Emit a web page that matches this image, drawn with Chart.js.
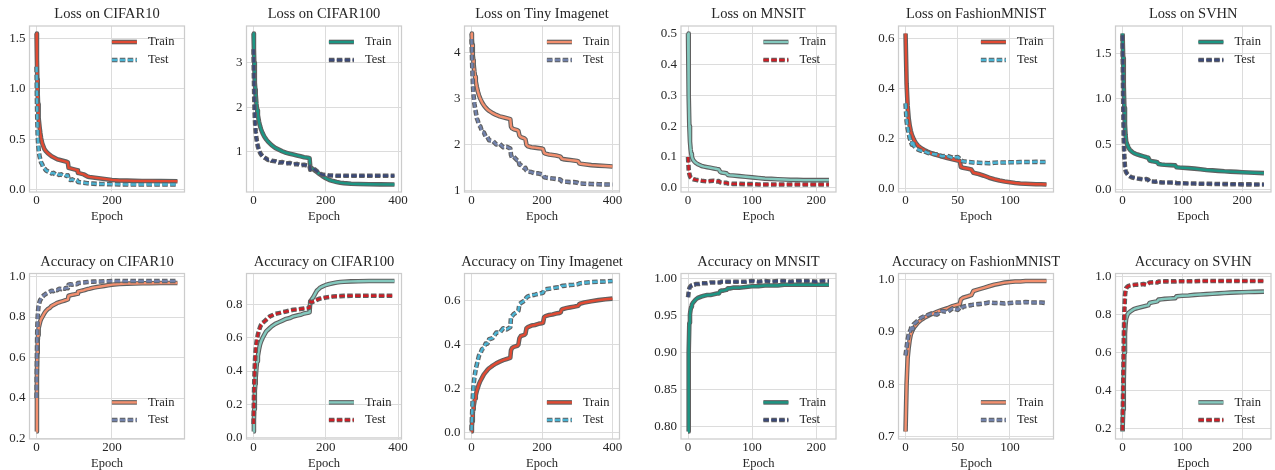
<!DOCTYPE html>
<html>
<head>
<meta charset="utf-8">
<script src="https://cdn.jsdelivr.net/npm/chart.js@4.4.1/dist/chart.umd.min.js"></script>
<style>
html, body { margin: 0; padding: 0; background: #fff; width: 1275px; height: 470px; overflow: hidden; }
canvas { position: absolute; }
</style>
</head>
<body>
<script>
// ---- data ----
const c10Epochs = [0,1,2,3,4,5,6, 8,10,12,15,18,21,25, 30,35,40,45,50,55,60, 65,70,75,80,83,85, 90,95,100,105,108,110, 115,120,125,130,135,140, 150,160,170,180,190,200, 220,240,260,280,300,330,374];
const c10LossTrain = [1.55,1.30,1.10,0.95,0.85,0.77,0.71, 0.62,0.56,0.51,0.46,0.43,0.40,0.38, 0.36,0.345,0.33,0.32,0.31,0.30,0.295, 0.29,0.285,0.28,0.275,0.27,0.215, 0.21,0.205,0.20,0.195,0.19,0.165, 0.16,0.155,0.15,0.14,0.13,0.125, 0.12,0.115,0.11,0.105,0.10,0.095, 0.09,0.088,0.086,0.085,0.084,0.083,0.082];
const c10LossTest = [1.22,0.90,0.70,0.55,0.47,0.42,0.38, 0.33,0.30,0.27,0.25,0.22,0.21,0.19, 0.18,0.17,0.16,0.165,0.15,0.155,0.145, 0.15,0.14,0.145,0.135,0.14,0.10, 0.095,0.10,0.09,0.095,0.09,0.075, 0.072,0.07,0.068,0.065,0.062,0.06, 0.058,0.056,0.055,0.054,0.053,0.052, 0.051,0.05,0.05,0.05,0.05,0.05,0.05];
const c10AccTrain = [0.235,0.50,0.62,0.68,0.71,0.73,0.745, 0.765,0.78,0.79,0.80,0.81,0.82,0.83, 0.84,0.845,0.855,0.86,0.865,0.87,0.873, 0.876,0.879,0.882,0.885,0.887,0.905, 0.908,0.91,0.912,0.914,0.915,0.925, 0.928,0.93,0.932,0.935,0.938,0.94, 0.945,0.948,0.951,0.954,0.957,0.96, 0.963,0.965,0.966,0.967,0.967,0.968,0.968];
const c10AccTest = [0.40,0.62,0.74,0.80,0.83,0.85,0.86, 0.875,0.885,0.89,0.90,0.905,0.91,0.915, 0.92,0.925,0.93,0.928,0.935,0.933,0.94, 0.938,0.943,0.94,0.945,0.943,0.96, 0.962,0.96,0.963,0.962,0.963,0.968, 0.969,0.97,0.971,0.972,0.973,0.974, 0.975,0.976,0.976,0.977,0.977,0.978, 0.978,0.978,0.978,0.978,0.978,0.978,0.978];

const c100Epochs = [0,1,2,3,4,5,6, 8,10,12,15,18,21,25, 30,35,40,45,50,60,70, 80,90,100,110,120,130,140, 150,155,157,160,165,170,175, 180,185,190,200,210,220,230, 240,250,270,290,320,350,390];
const c100LossTrain = [3.65,3.30,3.00,2.75,2.55,2.40,2.28, 2.08,1.93,1.82,1.68,1.58,1.50,1.42, 1.34,1.28,1.23,1.19,1.15,1.09,1.05, 1.01,0.98,0.96,0.94,0.92,0.90,0.88, 0.87,0.86,0.66,0.64,0.61,0.58,0.55, 0.52,0.49,0.46,0.41,0.37,0.345,0.325, 0.31,0.30,0.285,0.28,0.275,0.272,0.27];
const c100LossTest = [3.30,2.70,2.20,1.90,1.70,1.55,1.45, 1.30,1.20,1.12,1.04,0.98,0.94,0.90, 0.87,0.85,0.82,0.83,0.80,0.79,0.76, 0.77,0.74,0.75,0.72,0.73,0.70,0.71, 0.69,0.68,0.60,0.62,0.63,0.60,0.57, 0.54,0.51,0.49,0.48,0.47,0.47,0.465, 0.465,0.465,0.465,0.465,0.465,0.465,0.465];
const c100AccTrain = [0.035,0.10,0.17,0.23,0.28,0.32,0.36, 0.42,0.46,0.49,0.53,0.56,0.58,0.60, 0.62,0.64,0.65,0.66,0.67,0.685,0.695, 0.705,0.715,0.72,0.73,0.735,0.74,0.748, 0.752,0.755,0.82,0.83,0.845,0.865,0.885, 0.895,0.905,0.91,0.92,0.926,0.931,0.935, 0.938,0.94,0.942,0.943,0.944,0.944,0.944];
const c100AccTest = [0.08,0.22,0.33,0.40,0.46,0.50,0.53, 0.57,0.60,0.62,0.645,0.665,0.68,0.69, 0.70,0.71,0.72,0.73,0.735,0.745,0.75, 0.755,0.76,0.765,0.77,0.772,0.775,0.778, 0.78,0.782,0.82,0.815,0.82,0.825,0.83, 0.835,0.838,0.84,0.845,0.848,0.85,0.852, 0.853,0.854,0.855,0.855,0.855,0.855,0.855];

const tinEpochs = [0,1,2,3,4,5,6,8,10,12, 15,18,21,25,30,35,40,45,50,60, 70,80,90,100,110,112,115,120,130,133, 136,140,150,153,156,160,170,180,190,200, 203,206,210,220,230,240,250,253,256,260, 270,280,290,300,303,306,310,320,340,360, 380,400];
const tinLossTrain = [4.42,4.30,4.18,4.05,3.95,3.85,3.75,3.60,3.48,3.38, 3.26,3.16,3.08,3.00,2.92,2.86,2.81,2.77,2.74,2.69, 2.65,2.62,2.60,2.58,2.56,2.40,2.36,2.34,2.32,2.30, 2.20,2.17,2.14,2.12,2.00,1.97,1.95,1.94,1.93,1.92, 1.91,1.83,1.81,1.79,1.78,1.77,1.75,1.74,1.70,1.69, 1.68,1.67,1.66,1.65,1.64,1.60,1.59,1.58,1.56,1.55, 1.54,1.53];
const tinLossTest = [4.30,4.00,3.70,3.50,3.30,3.15,3.05,2.90,2.80,2.72, 2.58,2.52,2.43,2.40,2.28,2.27,2.18,2.17,2.10,2.09, 2.01,2.02,1.95,1.96,1.92,1.78,1.72,1.74,1.66,1.67, 1.57,1.56,1.49,1.50,1.44,1.42,1.41,1.38,1.38,1.36, 1.35,1.30,1.29,1.28,1.27,1.26,1.25,1.24,1.21,1.20, 1.20,1.19,1.19,1.18,1.17,1.16,1.16,1.155,1.15,1.145, 1.14,1.14];
const tinAccTrain = [0.005,0.03,0.05,0.07,0.09,0.105,0.12,0.14,0.155,0.17, 0.19,0.205,0.22,0.235,0.25,0.265,0.275,0.285,0.293,0.305, 0.315,0.323,0.33,0.335,0.34,0.375,0.385,0.39,0.395,0.40, 0.43,0.44,0.445,0.45,0.475,0.48,0.487,0.49,0.495,0.498, 0.50,0.525,0.53,0.535,0.538,0.542,0.545,0.547,0.56,0.563, 0.567,0.57,0.573,0.576,0.578,0.585,0.588,0.592,0.598,0.603, 0.607,0.61];
const tinAccTest = [0.01,0.06,0.10,0.14,0.17,0.20,0.22,0.25,0.27,0.29, 0.31,0.33,0.35,0.36,0.38,0.385,0.405,0.405,0.425,0.43, 0.455,0.455,0.475,0.47,0.48,0.525,0.53,0.54,0.55,0.555, 0.585,0.59,0.60,0.605,0.615,0.62,0.625,0.628,0.632,0.635, 0.637,0.65,0.652,0.655,0.657,0.66,0.662,0.663,0.667,0.668, 0.67,0.672,0.673,0.675,0.676,0.679,0.68,0.682,0.685,0.687, 0.688,0.69];

const mnEpochs = [0,1,2,3,4,5,6,8,10,12, 15,18,21,25,30,35,40,45,48,50, 52,55,60,62,65,70,80,90,100,110, 120,130,140,150,160,170,180,190,200,210, 220];
const mnLossTrain = [0.50,0.30,0.20,0.15,0.125,0.11,0.10,0.09,0.085,0.081, 0.077,0.074,0.071,0.069,0.067,0.065,0.063,0.061,0.060,0.052, 0.050,0.049,0.047,0.042,0.041,0.040,0.038,0.036,0.034,0.032, 0.030,0.029,0.028,0.027,0.026,0.026,0.025,0.025,0.025,0.025, 0.025];
const mnLossTest = [0.10,0.06,0.045,0.038,0.034,0.032,0.030,0.028,0.027,0.026, 0.025,0.024,0.023,0.022,0.021,0.022,0.023,0.021,0.022,0.018, 0.017,0.016,0.016,0.014,0.014,0.013,0.013,0.012,0.012,0.011, 0.011,0.011,0.011,0.011,0.011,0.011,0.011,0.011,0.011,0.011, 0.011];
const mnAccTrain = [0.793,0.90,0.94,0.952,0.958,0.962,0.965,0.968,0.970,0.972, 0.974,0.975,0.976,0.977,0.978,0.978,0.979,0.980,0.980,0.983, 0.984,0.984,0.985,0.987,0.987,0.988,0.988,0.989,0.990,0.990, 0.991,0.991,0.991,0.992,0.992,0.992,0.992,0.992,0.992,0.992, 0.992];
const mnAccTest = [0.975,0.982,0.987,0.989,0.990,0.991,0.991,0.992,0.992,0.993, 0.993,0.993,0.994,0.994,0.994,0.995,0.995,0.995,0.995,0.995, 0.996,0.996,0.996,0.996,0.996,0.996,0.996,0.996,0.997,0.996, 0.997,0.996,0.997,0.997,0.996,0.997,0.997,0.997,0.996,0.997, 0.997];

const fmEpochs = [0,1,2,3,4,5,6,7,8,10, 12,15,18,21,25,30,35,40,45,50, 52,53,55,60,63,65,70,75,80,85, 90,95,100,105,110,115,120,125,130,135];
const fmLossTrain = [0.62,0.42,0.33,0.28,0.25,0.23,0.215,0.205,0.195,0.18, 0.17,0.16,0.153,0.147,0.14,0.133,0.127,0.121,0.116,0.111, 0.109,0.085,0.082,0.078,0.075,0.062,0.057,0.050,0.042,0.036, 0.031,0.027,0.024,0.021,0.019,0.018,0.017,0.016,0.016,0.015];
const fmLossTest = [0.34,0.27,0.24,0.22,0.20,0.19,0.175,0.19,0.17,0.16, 0.155,0.15,0.148,0.142,0.138,0.135,0.128,0.13,0.122,0.125, 0.118,0.112,0.108,0.105,0.104,0.103,0.102,0.101,0.100,0.102, 0.103,0.103,0.104,0.104,0.105,0.105,0.105,0.106,0.105,0.105];
const fmAccTrain = [0.71,0.80,0.85,0.87,0.885,0.895,0.90,0.905,0.908,0.913, 0.918,0.923,0.927,0.93,0.934,0.938,0.942,0.945,0.949,0.952, 0.953,0.962,0.965,0.968,0.97,0.978,0.981,0.984,0.987,0.99, 0.992,0.994,0.995,0.996,0.996,0.997,0.997,0.997,0.997,0.997];
const fmAccTest = [0.855,0.87,0.885,0.895,0.90,0.905,0.912,0.905,0.915,0.918, 0.922,0.927,0.93,0.932,0.935,0.933,0.94,0.938,0.945,0.942, 0.946,0.944,0.948,0.95,0.951,0.952,0.953,0.954,0.956,0.955, 0.955,0.954,0.955,0.956,0.956,0.957,0.956,0.956,0.956,0.955];

const svEpochs = [0,1,2,3,4,5,6,8,10,12, 15,18,21,25,30,35,40,43,45,50, 55,58,60,65,70,80,88,90,95,100, 110,120,130,140,150,160,170,180,190,200, 210,220,236];
const svLossTrain = [1.72,1.45,1.15,0.90,0.72,0.60,0.53,0.49,0.46,0.44, 0.42,0.405,0.395,0.385,0.375,0.365,0.355,0.35,0.32,0.31, 0.305,0.30,0.28,0.275,0.272,0.268,0.265,0.245,0.242,0.24, 0.235,0.23,0.222,0.215,0.21,0.205,0.20,0.197,0.194,0.19, 0.187,0.184,0.18];
const svLossTest = [1.70,1.00,0.55,0.35,0.25,0.21,0.19,0.17,0.155,0.145, 0.135,0.13,0.125,0.12,0.115,0.11,0.115,0.105,0.09,0.088, 0.085,0.09,0.08,0.078,0.077,0.076,0.075,0.07,0.069,0.068, 0.066,0.065,0.063,0.062,0.061,0.06,0.059,0.058,0.057,0.056, 0.056,0.055,0.055];
const svAccTrain = [0.185,0.30,0.45,0.60,0.70,0.75,0.78,0.80,0.81,0.815, 0.822,0.828,0.832,0.836,0.84,0.844,0.848,0.85,0.862,0.866, 0.869,0.871,0.88,0.882,0.884,0.886,0.888,0.897,0.899,0.90, 0.902,0.905,0.907,0.909,0.911,0.913,0.915,0.917,0.918,0.919, 0.92,0.921,0.922];
const svAccTest = [0.19,0.40,0.65,0.82,0.90,0.93,0.94,0.948,0.952,0.954, 0.956,0.957,0.958,0.959,0.96,0.962,0.958,0.965,0.97,0.971, 0.972,0.97,0.975,0.975,0.976,0.976,0.976,0.977,0.977,0.977, 0.977,0.977,0.978,0.978,0.978,0.978,0.978,0.978,0.978,0.978, 0.978,0.978,0.978];

// tick labels
const c10XTicks = [0, 200];
const c100XTicks = [0, 200, 400];
const tinXTicks = [0, 200, 400];
const mnXTicks = [0, 100, 200];
const fmXTicks = [0, 50, 100];
const svXTicks = [0, 100, 200];
const lossC10YTicks = ['0.0', '0.5', '1.0', '1.5'];
const lossC100YTicks = ['1', '2', '3'];
const lossTinYTicks = ['1', '2', '3', '4'];
const lossMnYTicks = ['0.0', '0.1', '0.2', '0.3', '0.4', '0.5'];
const lossFmYTicks = ['0.0', '0.2', '0.4', '0.6'];
const lossSvYTicks = ['0.0', '0.5', '1.0', '1.5'];
const accC10YTicks = ['0.2', '0.4', '0.6', '0.8', '1.0'];
const accC100YTicks = ['0.0', '0.2', '0.4', '0.6', '0.8'];
const accTinYTicks = ['0.0', '0.2', '0.4', '0.6'];
const accMnYTicks = ['0.80', '0.85', '0.90', '0.95', '1.00'];
const accFmYTicks = ['0.7', '0.8', '0.9', '1.0'];
const accSvYTicks = ['0.2', '0.4', '0.6', '0.8', '1.0'];

// ---- style ----
const FONT = "'Liberation Serif', 'Times New Roman', serif";
const INK = '#262626';
const GRID = '#dcdcdc';
const FRAME = '#cccccc';
const OUTLINE = '#606060';
const DASH = [5.5, 2.4];
const palettes = {
    A: ['#e24a33', '#4bb3d3'],
    B: ['#1c9684', '#3c4a78'],
    C: ['#f3906f', '#7282ab'],
    D: ['#84c9be', '#cc1f27']
};

// plot-area geometry, page pixels
const colLeft = [29.5, 246.5, 464.5, 681, 898.5, 1115.5];
const colWidth = [155, 155, 155, 155, 155, 155.5];
const rowTop = [26, 273.5];
const rowHeight = [166, 165];
const rowOrigin = [0, 235];

const panels = [
    {title: 'Loss on CIFAR10', epochs: c10Epochs, train: c10LossTrain, test: c10LossTest, xTicks: c10XTicks, yTicks: lossC10YTicks, pal: 'A', row: 0, col: 0},
    {title: 'Loss on CIFAR100', epochs: c100Epochs, train: c100LossTrain, test: c100LossTest, xTicks: c100XTicks, yTicks: lossC100YTicks, pal: 'B', row: 0, col: 1},
    {title: 'Loss on Tiny Imagenet', epochs: tinEpochs, train: tinLossTrain, test: tinLossTest, xTicks: tinXTicks, yTicks: lossTinYTicks, pal: 'C', row: 0, col: 2},
    {title: 'Loss on MNSIT', epochs: mnEpochs, train: mnLossTrain, test: mnLossTest, xTicks: mnXTicks, yTicks: lossMnYTicks, pal: 'D', row: 0, col: 3},
    {title: 'Loss on FashionMNIST', epochs: fmEpochs, train: fmLossTrain, test: fmLossTest, xTicks: fmXTicks, yTicks: lossFmYTicks, pal: 'A', row: 0, col: 4},
    {title: 'Loss on SVHN', epochs: svEpochs, train: svLossTrain, test: svLossTest, xTicks: svXTicks, yTicks: lossSvYTicks, pal: 'B', row: 0, col: 5},
    {title: 'Accuracy on CIFAR10', epochs: c10Epochs, train: c10AccTrain, test: c10AccTest, xTicks: c10XTicks, yTicks: accC10YTicks, pal: 'C', row: 1, col: 0},
    {title: 'Accuracy on CIFAR100', epochs: c100Epochs, train: c100AccTrain, test: c100AccTest, xTicks: c100XTicks, yTicks: accC100YTicks, pal: 'D', row: 1, col: 1},
    {title: 'Accuracy on Tiny Imagenet', epochs: tinEpochs, train: tinAccTrain, test: tinAccTest, xTicks: tinXTicks, yTicks: accTinYTicks, pal: 'A', row: 1, col: 2},
    {title: 'Accuracy on MNSIT', epochs: mnEpochs, train: mnAccTrain, test: mnAccTest, xTicks: mnXTicks, yTicks: accMnYTicks, pal: 'B', row: 1, col: 3},
    {title: 'Accuracy on FashionMNIST', epochs: fmEpochs, train: fmAccTrain, test: fmAccTest, xTicks: fmXTicks, yTicks: accFmYTicks, pal: 'C', row: 1, col: 4},
    {title: 'Accuracy on SVHN', epochs: svEpochs, train: svAccTrain, test: svAccTest, xTicks: svXTicks, yTicks: accSvYTicks, pal: 'D', row: 1, col: 5}
];

// frame, title and in-plot legend
const decor = {
    id: 'decor',
    afterDatasetsDraw(chart, args, opts) {
        const ctx = chart.ctx;
        const a = chart.chartArea;
        ctx.save();
        ctx.strokeStyle = FRAME;
        ctx.lineWidth = 1.25;
        ctx.strokeRect(a.left, a.top, a.right - a.left, a.bottom - a.top);

        ctx.fillStyle = INK;
        ctx.textBaseline = 'middle';
        ctx.textAlign = 'center';
        ctx.font = '14.5px ' + FONT;
        ctx.fillText(opts.title, (a.left + a.right) / 2, a.top - 11.5);

        // legend rows
        const rows = opts.lower ? [a.bottom - 36.6, a.bottom - 19] : [a.top + 16, a.top + 34];
        const x0 = a.right - 72.6, x1 = a.right - 47.6;
        const entries = [['Train', opts.colors[0], []], ['Test', opts.colors[1], DASH]];
        entries.forEach(function (e, i) {
            const y = rows[i];
            ctx.setLineDash(e[2]);
            ctx.lineCap = 'butt';
            ctx.strokeStyle = OUTLINE;
            ctx.lineWidth = 4.6;
            ctx.beginPath(); ctx.moveTo(x0, y); ctx.lineTo(x1, y); ctx.stroke();
            ctx.strokeStyle = e[1];
            ctx.lineWidth = 2.4;
            ctx.beginPath(); ctx.moveTo(x0, y); ctx.lineTo(x1, y); ctx.stroke();
            ctx.setLineDash([]);
            ctx.textAlign = 'left';
            ctx.font = '12.5px ' + FONT;
            ctx.fillStyle = INK;
            ctx.fillText(e[0], a.right - 36.6, y);
        });
        ctx.restore();
    }
};

function points(epochs, vals) {
    return epochs.map(function (e, i) { return {x: e, y: vals[i]}; });
}

function makePanel(p) {
    const left = colLeft[p.col], plotW = colWidth[p.col], plotH = rowHeight[p.row];
    const cvsLeft = Math.floor(left - 42);
    const yw = left - cvsLeft;
    const padTop = rowTop[p.row] - rowOrigin[p.row];
    const xh = 32;
    const w = Math.ceil(yw + plotW + 14);
    const rightPad = w - yw - plotW;
    const h = Math.ceil(padTop + plotH + xh);

    const cvs = document.createElement('canvas');
    cvs.width = w; cvs.height = h;
    cvs.style.left = cvsLeft + 'px';
    cvs.style.top = rowOrigin[p.row] + 'px';
    document.body.appendChild(cvs);

    const n = p.epochs[p.epochs.length - 1] - p.epochs[0];
    const all = p.train.concat(p.test);
    const lo = Math.min.apply(null, all), hi = Math.max.apply(null, all);
    const yVals = p.yTicks.map(Number);
    const colors = palettes[p.pal];
    const trainPts = points(p.epochs, p.train);
    const testPts = points(p.epochs, p.test);

    new Chart(cvs, {
        type: 'line',
        data: {
            datasets: [
                {data: trainPts, borderColor: OUTLINE, borderWidth: 4.6, order: 4},
                {data: trainPts, borderColor: colors[0], borderWidth: 2.4, order: 3},
                {data: testPts, borderColor: OUTLINE, borderWidth: 4.6, borderDash: DASH, order: 2},
                {data: testPts, borderColor: colors[1], borderWidth: 2.4, borderDash: DASH, order: 1}
            ]
        },
        options: {
            responsive: false,
            animation: false,
            devicePixelRatio: 1,
            layout: {padding: {top: padTop, right: rightPad, left: 0, bottom: 0}},
            elements: {
                point: {radius: 0},
                line: {tension: 0, borderJoinStyle: 'round', borderCapStyle: 'butt', fill: false}
            },
            plugins: {
                legend: {display: false},
                title: {display: false},
                tooltip: {enabled: false},
                decor: {title: p.title, lower: p.row === 1, colors: colors}
            },
            scales: {
                x: {
                    type: 'linear',
                    min: p.epochs[0] - 0.05 * n,
                    max: p.epochs[p.epochs.length - 1] + 0.05 * n,
                    grid: {color: GRID, lineWidth: 1, drawTicks: false},
                    border: {display: false},
                    ticks: {font: {family: FONT, size: 13}, color: INK, padding: 1, autoSkip: false, maxRotation: 0,
                        callback: function (v) { return String(v); }},
                    title: {display: true, text: 'Epoch', font: {family: FONT, size: 12.5}, color: INK, padding: {top: 0, bottom: 0}},
                    afterBuildTicks: function (s) { s.ticks = p.xTicks.map(function (v) { return {value: v}; }); },
                    afterFit: function (s) { s.height = xh; s.paddingLeft = 0; s.paddingRight = 0; }
                },
                y: {
                    type: 'linear',
                    min: lo - 0.05 * (hi - lo),
                    max: hi + 0.05 * (hi - lo),
                    grid: {color: GRID, lineWidth: 1, drawTicks: false},
                    border: {display: false},
                    ticks: {font: {family: FONT, size: 13}, color: INK, padding: 4, autoSkip: false,
                        callback: function (v) { return p.yTicks[yVals.indexOf(v)]; }},
                    afterBuildTicks: function (s) { s.ticks = yVals.map(function (v) { return {value: v}; }); },
                    afterFit: function (s) { s.width = yw; s.paddingTop = 0; s.paddingBottom = 0; }
                }
            }
        },
        plugins: [decor]
    });
}

panels.forEach(makePanel);
</script>
</body>
</html>
